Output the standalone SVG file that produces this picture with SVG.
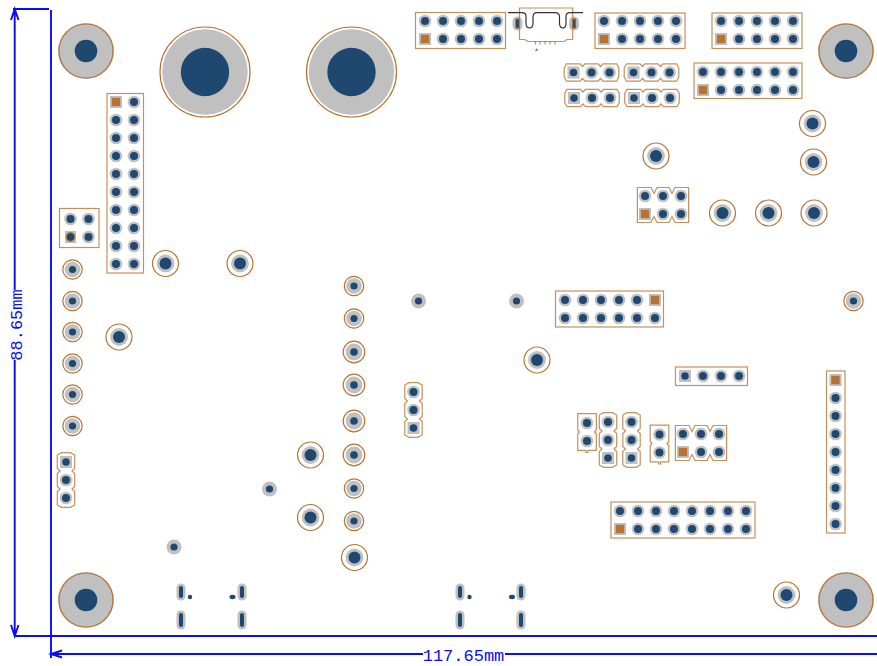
<svg xmlns="http://www.w3.org/2000/svg" width="877" height="666" viewBox="0 0 877 666">
<style>
.o{fill:none;stroke:#b87333;stroke-width:1.2;stroke-opacity:.8}
.r{fill:none;stroke:#b87333;stroke-width:1.2}
.g{fill:#c0c0c0}
.h{fill:#1e4870}
.c{fill:#b87333}
.d{fill:none;stroke:#0a0aff;stroke-width:1.9}
.t{fill:#0a0aff;font-family:"Liberation Mono","DejaVu Sans Mono",monospace;font-size:17px}
.k{fill:none;stroke:#333;stroke-width:1.2}
</style>
<defs>
<g id="p"><circle class="g" r="6.3"/><circle class="h" r="4"/></g>
<g id="s"><rect class="g" x="-6" y="-6" width="12" height="12"/><rect class="c" x="-4.2" y="-4.2" width="8.4" height="8.4"/></g>
<g id="q"><rect class="g" x="-6" y="-6" width="12" height="12"/><circle class="h" r="3.8"/></g>
<g id="r1"><circle class="r" r="9.7"/><circle class="g" r="7.8"/><circle class="h" r="3.6"/></g>
<g id="r2"><circle class="r" r="10.8"/><circle class="g" r="8.4"/><circle class="h" r="3.8"/></g>
<g id="r3"><circle class="r" r="13"/><circle class="g" r="8.9"/><circle class="h" r="6"/></g>
<g id="b"><circle class="g" r="7.5"/><circle class="h" r="3.6"/></g>
<g id="m"><circle class="g" r="28"/><circle class="r" r="27"/><circle class="h" r="11.3"/></g>
<g id="l"><circle class="r" r="45"/><circle class="g" r="42.7"/><circle class="h" r="24.2"/></g>
<path id="j" class="o" d="M-4.500,-27.300H4.500L8.700,-25V-11.500L6,-9L8.700,-6.500V6.500L6,9L8.700,11.500V25L4.500,27.300H-4.500L-8.700,25V11.500L-6,9L-8.700,6.500V-6.500L-6,-9L-8.700,-11.500V-25Z"/>
<path id="n" class="o" d="M-25.600,-17.500H-12L-9,-11.500L-6,-17.500H6L9,-11.500L12,-17.500H25.600V17.500H12L9,11.500L6,17.500H-6L-9,11.500L-12,17.500H-25.600Z"/>
<path id="t2" class="o" d="M-9.300,-18.300H9.300V-2L7.500,0L9.300,2V18.300H1V20.500H-1V18.300H-9.300V2L-7.500,0L-9.300,-2Z"/>
<g id="u"><rect class="g" x="-5" y="-7" width="10" height="14" rx="5"/><rect x="-1.800" y="-4.600" width="3.600" height="9.200" fill="#1e4870" stroke="#b87333" stroke-width=".8"/></g>
<g id="v1"><rect class="g" x="-4.500" y="-8.500" width="9" height="17" rx="4.500"/><rect class="h" x="-2" y="-6" width="4" height="12" rx="2"/></g>
<g id="v2"><rect class="g" x="-4.500" y="-9.500" width="9" height="19" rx="4.500"/><rect class="h" x="-2" y="-7" width="4" height="14" rx="2"/></g>
</defs>

<g id="mounting">
<use href="#m" x="86" y="51"/><use href="#m" x="846" y="51"/><use href="#m" x="86" y="600"/><use href="#m" x="846" y="600"/>
<use href="#l" x="205" y="72"/><use href="#l" x="351.500" y="72"/>
</g>

<g id="J-top1">
<rect class="o" x="415.500" y="12.500" width="90" height="36"/>
<use href="#p" x="425" y="21"/><use href="#p" x="443" y="21"/><use href="#p" x="461" y="21"/><use href="#p" x="479" y="21"/><use href="#p" x="497" y="21"/>
<use href="#s" x="425" y="39"/><use href="#p" x="443" y="39"/><use href="#p" x="461" y="39"/><use href="#p" x="479" y="39"/><use href="#p" x="497" y="39"/>
</g>

<g id="usb">
<use href="#u" x="517.500" y="23.500"/><use href="#u" x="574" y="23.500"/>
<path class="o" d="M519.500,8H572.700V39.500H567L564,41.500H528L525,39.500H519.500Z"/>
<path class="k" d="M508,12.700H522Q526,12.700 526,16V23Q526,28 529.500,28Q533,28 533,23V17Q533,12.700 537,12.700H555Q559.500,12.700 559.500,17V23Q559.500,28 563,28Q566,28 566,23V16Q566,12.700 570,12.700H583"/>
<path class="o" d="M535.500,41V44.500M540,41V44.500M545,41V44.500M550,41V44.500M555,41V44.500" stroke-width="1.500"/>
<path class="c" d="M536.500,48L538,51H535Z"/>
</g>

<g id="J-top2">
<rect class="o" x="595" y="13" width="90" height="35.500"/>
<use href="#p" x="604" y="21"/><use href="#p" x="622" y="21"/><use href="#p" x="640" y="21"/><use href="#p" x="658" y="21"/><use href="#p" x="676" y="21"/>
<use href="#s" x="604" y="39"/><use href="#p" x="622" y="39"/><use href="#p" x="640" y="39"/><use href="#p" x="658" y="39"/><use href="#p" x="676" y="39"/>
</g>

<g id="J-top3">
<rect class="o" x="712" y="13" width="90" height="35.500"/>
<use href="#p" x="721" y="21"/><use href="#p" x="739" y="21"/><use href="#p" x="757" y="21"/><use href="#p" x="775" y="21"/><use href="#p" x="793" y="21"/>
<use href="#s" x="721" y="39"/><use href="#p" x="739" y="39"/><use href="#p" x="757" y="39"/><use href="#p" x="775" y="39"/><use href="#p" x="793" y="39"/>
</g>

<g id="J-top4">
<rect class="o" x="694" y="63" width="108" height="35.500"/>
<use href="#p" x="703" y="72"/><use href="#p" x="721" y="72"/><use href="#p" x="739" y="72"/><use href="#p" x="757" y="72"/><use href="#p" x="775" y="72"/><use href="#p" x="793" y="72"/>
<use href="#s" x="703" y="90"/><use href="#p" x="721" y="90"/><use href="#p" x="739" y="90"/><use href="#p" x="757" y="90"/><use href="#p" x="775" y="90"/><use href="#p" x="793" y="90"/>
</g>

<g id="JH1"><use href="#j" transform="translate(591.500 72.500) rotate(90)"/><use href="#q" x="573.500" y="72.500"/><use href="#p" x="591.500" y="72.500"/><use href="#p" x="609.500" y="72.500"/></g>
<g id="JH2"><use href="#j" transform="translate(592 98) rotate(90)"/><use href="#q" x="574" y="98"/><use href="#p" x="592" y="98"/><use href="#p" x="610" y="98"/></g>
<g id="JH3"><use href="#j" transform="translate(651.500 72.500) rotate(90)"/><use href="#q" x="633.500" y="72.500"/><use href="#p" x="651.500" y="72.500"/><use href="#p" x="669.500" y="72.500"/></g>
<g id="JH4"><use href="#j" transform="translate(652 98) rotate(90)"/><use href="#q" x="634" y="98"/><use href="#p" x="652" y="98"/><use href="#p" x="670" y="98"/></g>

<g id="J-left">
<rect class="o" x="107" y="93.500" width="36.500" height="179.500"/>
<use href="#s" x="116" y="102"/><use href="#p" x="134" y="102"/>
<use href="#p" x="116" y="120"/><use href="#p" x="134" y="120"/>
<use href="#p" x="116" y="138"/><use href="#p" x="134" y="138"/>
<use href="#p" x="116" y="156"/><use href="#p" x="134" y="156"/>
<use href="#p" x="116" y="174"/><use href="#p" x="134" y="174"/>
<use href="#p" x="116" y="192"/><use href="#p" x="134" y="192"/>
<use href="#p" x="116" y="210"/><use href="#p" x="134" y="210"/>
<use href="#p" x="116" y="228"/><use href="#p" x="134" y="228"/>
<use href="#p" x="116" y="246"/><use href="#p" x="134" y="246"/>
<use href="#p" x="116" y="264"/><use href="#p" x="134" y="264"/>
</g>

<g id="J-2x2">
<rect class="o" x="59.500" y="208.500" width="39.500" height="39"/>
<use href="#p" x="70.500" y="219"/><use href="#p" x="88.500" y="219"/>
<rect class="g" x="65" y="231" width="11" height="12"/><circle class="h" cx="70.500" cy="237" r="4.300"/><circle class="r" cx="70.500" cy="237" r="4.300"/>
<use href="#p" x="88.500" y="237"/>
</g>

<g id="vias">
<use href="#r1" x="72.500" y="269.500"/><use href="#r1" x="72.500" y="301"/><use href="#r1" x="72.500" y="332"/><use href="#r1" x="72.500" y="363.500"/><use href="#r1" x="72.500" y="394.500"/><use href="#r1" x="72.500" y="426"/>
<use href="#r3" x="119" y="337"/><use href="#r3" x="165.500" y="263.500"/><use href="#r3" x="240" y="263.500"/>
<use href="#r1" x="354" y="286"/><use href="#r1" x="354" y="318.500"/><use href="#r2" x="354" y="352"/><use href="#r2" x="354" y="385"/><use href="#r2" x="354" y="421"/><use href="#r2" x="354" y="455"/><use href="#r1" x="354" y="488.500"/><use href="#r1" x="354" y="521"/><use href="#r3" x="354.500" y="557.500"/>
<use href="#r3" x="310.500" y="455"/><use href="#r3" x="310.500" y="517.500"/>
<use href="#r3" x="656" y="156"/><use href="#r3" x="812.500" y="123.500"/><use href="#r3" x="813.500" y="162"/><use href="#r3" x="722.500" y="213"/><use href="#r3" x="768.500" y="213"/><use href="#r3" x="814" y="213"/>
<use href="#r3" x="537" y="360"/><use href="#r3" x="786.500" y="595"/>
<use href="#r1" x="853.500" y="301"/>
<use href="#b" x="418.500" y="301"/><use href="#b" x="516.500" y="301"/><use href="#b" x="269.500" y="489"/><use href="#b" x="174" y="547"/>
</g>

<g id="J-3x2a"><use href="#n" x="663" y="205"/>
<use href="#p" x="645" y="196"/><use href="#p" x="663" y="196"/><use href="#p" x="681" y="196"/>
<use href="#s" x="645" y="214"/><use href="#p" x="663" y="214"/><use href="#p" x="681" y="214"/></g>

<g id="J-mid">
<rect class="o" x="555.500" y="291" width="108" height="36"/>
<use href="#p" x="565" y="300"/><use href="#p" x="583" y="300"/><use href="#p" x="601" y="300"/><use href="#p" x="619" y="300"/><use href="#p" x="637" y="300"/><use href="#s" x="655" y="300"/>
<use href="#p" x="565" y="318"/><use href="#p" x="583" y="318"/><use href="#p" x="601" y="318"/><use href="#p" x="619" y="318"/><use href="#p" x="637" y="318"/><use href="#p" x="655" y="318"/>
</g>

<g id="J-1x4">
<rect class="o" x="675.500" y="367" width="72" height="18.500"/>
<use href="#q" x="685" y="376"/><use href="#p" x="703" y="376"/><use href="#p" x="721" y="376"/><use href="#p" x="739" y="376"/>
</g>

<g id="J-right">
<rect class="o" x="826.500" y="371" width="18.500" height="162"/>
<use href="#s" x="835.500" y="380"/><use href="#p" x="835.500" y="398"/><use href="#p" x="835.500" y="416"/><use href="#p" x="835.500" y="434"/><use href="#p" x="835.500" y="452"/><use href="#p" x="835.500" y="470"/><use href="#p" x="835.500" y="488"/><use href="#p" x="835.500" y="506"/><use href="#p" x="835.500" y="524"/>
</g>

<g id="JV1"><use href="#j" x="66" y="480"/><use href="#q" x="66" y="462"/><use href="#p" x="66" y="480"/><use href="#p" x="66" y="498"/></g>
<g id="JV2"><use href="#j" x="413.500" y="410"/><use href="#p" x="413.500" y="392"/><use href="#p" x="413.500" y="410"/><use href="#q" x="413.500" y="428"/></g>
<g id="JV3"><use href="#t2" x="587" y="432"/><use href="#p" x="587" y="423"/><use href="#p" x="587" y="441"/></g>
<g id="JV4"><use href="#j" x="608" y="440"/><use href="#p" x="608" y="422"/><use href="#p" x="608" y="440"/><use href="#q" x="608" y="458"/></g>
<g id="JV5"><use href="#j" x="631.500" y="440"/><use href="#p" x="631.500" y="422"/><use href="#p" x="631.500" y="440"/><use href="#q" x="631.500" y="458"/></g>
<g id="JV6"><use href="#t2" x="659.500" y="443.500"/><use href="#p" x="659.500" y="434.500"/><use href="#p" x="659.500" y="452.500"/></g>

<g id="J-3x2b"><use href="#n" x="701" y="443"/>
<use href="#p" x="683" y="434"/><use href="#p" x="701" y="434"/><use href="#p" x="719" y="434"/>
<use href="#s" x="683" y="452"/><use href="#p" x="701" y="452"/><use href="#p" x="719" y="452"/></g>

<g id="J-bottom">
<rect class="o" x="611" y="502" width="144" height="36"/>
<use href="#p" x="620" y="511"/><use href="#p" x="638" y="511"/><use href="#p" x="656" y="511"/><use href="#p" x="674" y="511"/><use href="#p" x="692" y="511"/><use href="#p" x="710" y="511"/><use href="#p" x="728" y="511"/><use href="#p" x="746" y="511"/>
<use href="#s" x="620" y="529"/><use href="#p" x="638" y="529"/><use href="#p" x="656" y="529"/><use href="#p" x="674" y="529"/><use href="#p" x="692" y="529"/><use href="#p" x="710" y="529"/><use href="#p" x="728" y="529"/><use href="#p" x="746" y="529"/>
</g>

<g id="slots1">
<use href="#v1" x="181" y="592"/><use href="#v2" x="181" y="620"/><use href="#v1" x="242" y="592"/><use href="#v2" x="242" y="620"/>
<circle class="h" cx="190" cy="597" r="2.200"/><ellipse class="h" cx="232.500" cy="597" rx="3" ry="2.200"/>
</g>
<g id="slots2">
<use href="#v1" x="460" y="592"/><use href="#v2" x="460" y="620"/><use href="#v1" x="521" y="592"/><use href="#v2" x="521" y="620"/>
<circle class="h" cx="469.500" cy="597" r="2.200"/><ellipse class="h" cx="512" cy="597" rx="3" ry="2.200"/>
</g>

<g id="connectors">
<path class="d" d="M13,9H49M14.700,9V290M14.700,360V636M11,20L14.700,9L18.500,20M11,625L14.700,636L18.500,625"/>
<path class="d" d="M51,10V658M14,636H877M51,654H423M505,654H877M62,650.500L51,654L62,657.500"/>
<text class="t" x="463.500" y="660.500" text-anchor="middle">117.65mm</text>
<text class="t" transform="translate(22 325) rotate(-90)" text-anchor="middle">88.65mm</text>
</g>
</svg>
